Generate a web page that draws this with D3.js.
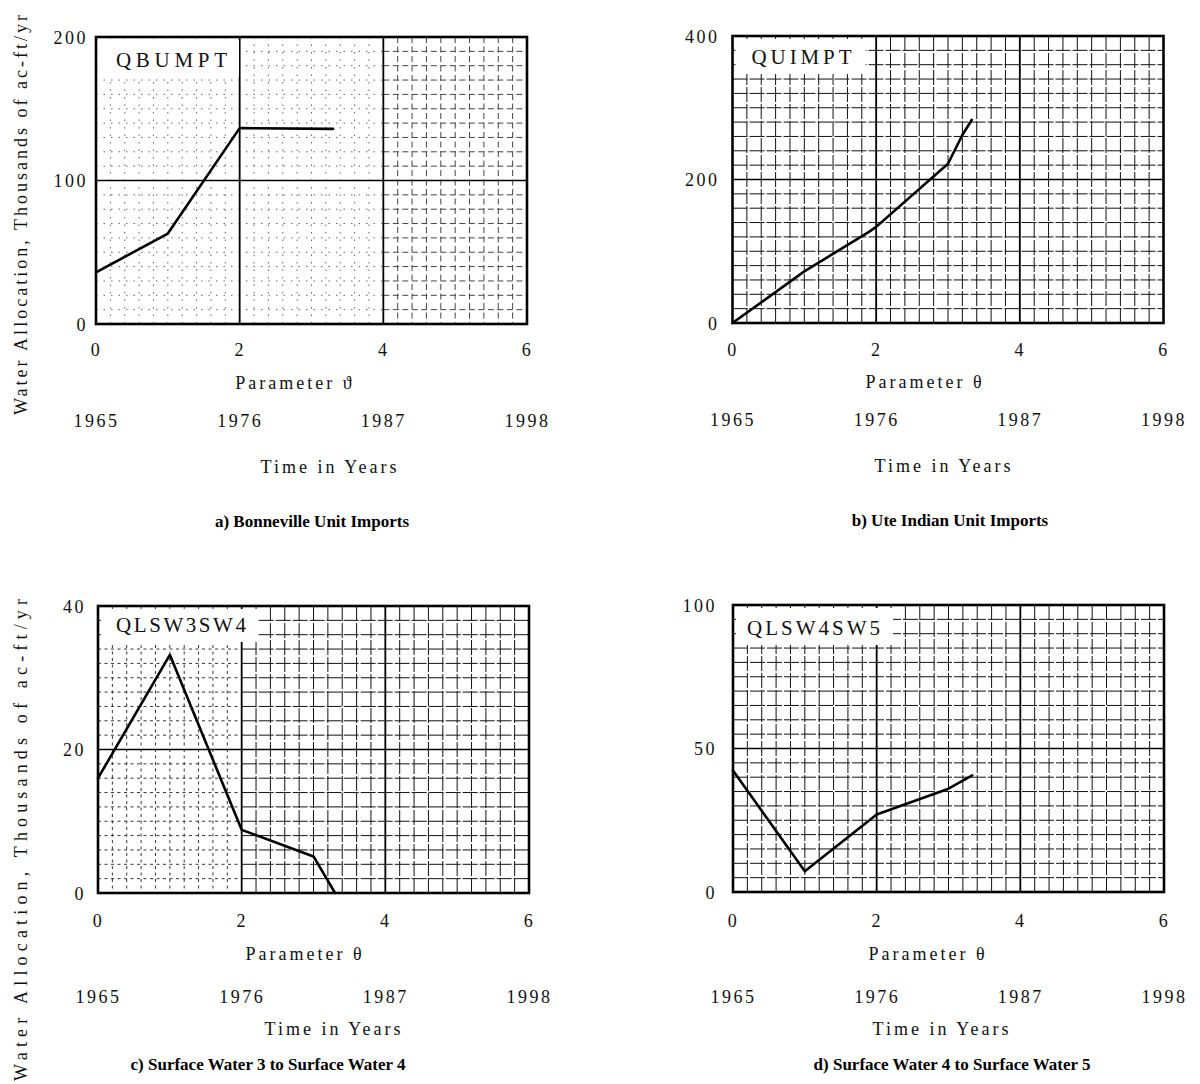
<!DOCTYPE html>
<html>
<head>
<meta charset="utf-8">
<script src="https://cdn.jsdelivr.net/npm/d3@7"></script>
<style>
  html, body { margin: 0; padding: 0; background: #fff; }
  svg { display: block; }
  .tick text { font-family: "Liberation Serif", serif; font-size: 18px; fill: #111; letter-spacing: 2.5px; }
  .lab { font-family: "Liberation Serif", serif; font-size: 18px; fill: #111; letter-spacing: 3px; }
  .cap { font-family: "Liberation Serif", serif; font-size: 17px; font-weight: bold; fill: #000; }
  .name { font-family: "Liberation Serif", serif; font-size: 21px; fill: #111; }
</style>
</head>
<body>
<svg id="chart" width="1200" height="1084"></svg>
<script>
// ---------------- data ----------------
const thetaTicks = [0, 2, 4, 6];
const yearTicks = [1965, 1976, 1987, 1998];
const panelNames = ["QBUMPT", "QUIMPT", "QLSW3SW4", "QLSW4SW5"];
const captions = [
  "a) Bonneville Unit Imports",
  "b) Ute Indian Unit Imports",
  "c) Surface Water 3 to Surface Water 4",
  "d) Surface Water 4 to Surface Water 5"
];
const paramLabels = ["Parameter \u03D1", "Parameter \u03B8", "Parameter \u03B8", "Parameter \u03B8"];
const yMaxes = [200, 400, 40, 100];
const yTicksA = [0, 100, 200];
const yTicksB = [0, 200, 400];
const yTicksC = [0, 20, 40];
const yTicksD = [0, 50, 100];

const thetaA = [0, 1, 2, 3.3];
const valuesA = [36, 63, 136.5, 136];
const thetaB = [0, 1, 1.9, 2, 3, 3.2, 3.33];
const valuesB = [0, 72, 127, 134, 222, 262, 283];
const thetaC = [0, 1, 2, 3, 3.3];
const valuesC = [16, 33.2, 8.8, 5.1, 0];
const thetaD = [0, 1, 2, 3, 3.33];
const valuesD = [42.3, 7.2, 27, 36, 40.6];

const yAxisTitle = "Water Allocation, Thousands of ac-ft/yr";

// ---------------- layout ----------------
const W = 431, H = 287;
const layout = [
  { left: 96,    top: 37,  yGap: 8,  broken: 4, nameX: 20, nameW: 111, nameDy: 23,
    tickDy: 26, paramX: 295, paramDy: 59, yearDy: 97, timeX: 330, timeDy: 143, capX: 312, capDy: 197, boxW: 140 },
  { left: 732.5, top: 36,  yGap: 13, broken: 0, nameX: 19, nameW: 100, nameDy: 21,
    tickDy: 27, paramX: 925, paramDy: 59, yearDy: 97, timeX: 944, timeDy: 143, capX: 950, capDy: 197, boxW: 130 },
  { left: 98,    top: 606, yGap: 12, broken: 2, nameX: 18, nameW: 130, nameDy: 19,
    tickDy: 28, paramX: 305, paramDy: 61, yearDy: 104, timeX: 334, timeDy: 136, capX: 268, capDy: 171, boxW: 157 },
  { left: 733,   top: 605, yGap: 16, broken: 0, nameX: 14, nameW: 133, nameDy: 23,
    tickDy: 29, paramX: 928, paramDy: 62, yearDy: 105, timeX: 942, timeDy: 137, capX: 952, capDy: 172, boxW: 157 }
];

const series = [
  { theta: thetaA, values: valuesA, yTicks: yTicksA },
  { theta: thetaB, values: valuesB, yTicks: yTicksB },
  { theta: thetaC, values: valuesC, yTicks: yTicksC },
  { theta: thetaD, values: valuesD, yTicks: yTicksD }
];

const svg = d3.select("#chart");

// y-axis titles (one per row of panels)
[[215, 400], [840, 482]].forEach(([cy, len]) => {
  svg.append("text")
    .attr("class", "lab")
    .attr("transform", `translate(27,${cy}) rotate(-90)`)
    .attr("text-anchor", "middle")
    .attr("textLength", len)
    .attr("lengthAdjust", "spacing")
    .style("letter-spacing", "0px")
    .text(yAxisTitle);
});

series.forEach((s, i) => {
  const L = layout[i];
  const yMax = yMaxes[i];
  const x = d3.scaleLinear().domain([0, 6]).range([0, W]);
  const y = d3.scaleLinear().domain([0, yMax]).range([H, 0]);
  const yr = d3.scaleLinear().domain([yearTicks[0], yearTicks[3]]).range([0, W]);
  const g = svg.append("g").attr("transform", `translate(${L.left},${L.top})`);

  const brokenStyle = i === 0 ? "1.5,6" : "3,3.5";
  const solidStyle = i === 0 ? "6,3.5" : "15,2";
  const brokenCol = i === 0 ? "#666" : "#333";
  const solidCol = i === 0 ? "#444" : "#111";

  // minor verticals
  const xMinor = x.ticks(30).filter(t => Math.abs(t / 2 - Math.round(t / 2)) > 1e-6);
  xMinor.forEach(t => {
    const br = t < L.broken;
    g.append("line")
      .attr("x1", x(t)).attr("x2", x(t)).attr("y1", 0).attr("y2", H)
      .attr("stroke", br ? brokenCol : solidCol)
      .attr("stroke-width", 1)
      .attr("stroke-dasharray", br ? brokenStyle : solidStyle);
  });
  // minor horizontals
  const yMinor = y.ticks(20).filter(t => t !== 0 && t !== yMax && t !== yMax / 2);
  yMinor.forEach(t => {
    if (L.broken > 0) {
      g.append("line")
        .attr("x1", 0).attr("x2", x(L.broken)).attr("y1", y(t)).attr("y2", y(t))
        .attr("stroke", brokenCol).attr("stroke-width", 1)
        .attr("stroke-dasharray", brokenStyle);
    }
    if (L.broken < 6) {
      g.append("line")
        .attr("x1", x(L.broken)).attr("x2", W).attr("y1", y(t)).attr("y2", y(t))
        .attr("stroke", solidCol).attr("stroke-width", 1)
        .attr("stroke-dasharray", solidStyle);
    }
  });
  // major lines
  [2, 4].forEach(t => {
    g.append("line").attr("x1", x(t)).attr("x2", x(t)).attr("y1", 0).attr("y2", H)
      .attr("stroke", "#000").attr("stroke-width", 1.8);
  });
  g.append("line").attr("x1", 0).attr("x2", W).attr("y1", y(yMax / 2)).attr("y2", y(yMax / 2))
    .attr("stroke", "#000").attr("stroke-width", 1.6);

  // name box
  g.append("rect")
    .attr("x", 3).attr("y", 3).attr("width", L.boxW).attr("height", L.nameDy + 14)
    .attr("fill", "#fff");
  g.append("text")
    .attr("class", "name")
    .attr("x", L.nameX).attr("y", L.nameDy)
    .attr("dy", "0.35em")
    .attr("textLength", L.nameW)
    .attr("lengthAdjust", "spacing")
    .text(panelNames[i]);

  // frame
  g.append("rect").attr("x", 0).attr("y", 0).attr("width", W).attr("height", H)
    .attr("fill", "none").attr("stroke", "#000").attr("stroke-width", 2.6);

  // series line
  const pts = s.theta.map((t, k) => [t, s.values[k]]);
  g.append("path")
    .datum(pts)
    .attr("d", d3.line().x(d => x(d[0])).y(d => y(d[1])))
    .attr("fill", "none").attr("stroke", "#000").attr("stroke-width", 2.6)
    .attr("stroke-linejoin", "round").attr("stroke-linecap", "round");

  // y axis tick labels
  const ya = g.append("g").call(d3.axisLeft(y).tickValues(s.yTicks).tickSize(0).tickPadding(L.yGap));
  ya.select(".domain").remove();
  ya.selectAll("text").attr("dy", "0.35em");

  // x axis tick labels
  const xa = g.append("g").attr("transform", `translate(0,${H + L.tickDy})`)
    .call(d3.axisBottom(x).tickValues(thetaTicks).tickFormat(d3.format("d")).tickSize(0).tickPadding(0));
  xa.select(".domain").remove();
  xa.selectAll("text").attr("dy", "0.35em").attr("y", 0);

  // year tick labels
  const yra = g.append("g").attr("transform", `translate(0,${H + L.yearDy})`)
    .call(d3.axisBottom(yr).tickValues(yearTicks).tickFormat(d3.format("d")).tickSize(0).tickPadding(0));
  yra.select(".domain").remove();
  yra.selectAll("text").attr("dy", "0.35em").attr("y", 0);

  // labels
  svg.append("text").attr("class", "lab").attr("text-anchor", "middle")
    .attr("x", L.paramX).attr("y", L.top + H + L.paramDy).attr("dy", "0.35em")
    .text(paramLabels[i]);
  svg.append("text").attr("class", "lab").attr("text-anchor", "middle")
    .attr("x", L.timeX).attr("y", L.top + H + L.timeDy).attr("dy", "0.35em")
    .text("Time in Years");
  svg.append("text").attr("class", "cap").attr("text-anchor", "middle")
    .attr("x", L.capX).attr("y", L.top + H + L.capDy).attr("dy", "0.35em")
    .text(captions[i]);
});
</script>
</body>
</html>
